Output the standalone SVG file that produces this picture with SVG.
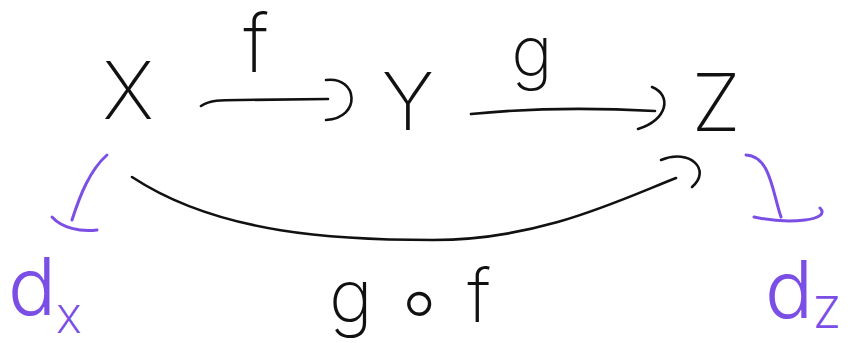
<svg xmlns="http://www.w3.org/2000/svg" width="868" height="343" viewBox="0 0 868 343">
<style>
.bg{fill:#ffffff}
.t{font-family:"Inter","Liberation Sans","DejaVu Sans",sans-serif;font-weight:200;fill:#111111}
.p{fill:#7b4fe6;font-weight:300}
.c{fill:none;stroke:#111111;stroke-width:2.6;stroke-linecap:round;stroke-linejoin:round}
.cp{fill:none;stroke:#7b4fe6;stroke-width:3;stroke-linecap:round;stroke-linejoin:round}
</style>
<rect class="bg" x="0" y="0" width="868" height="343"/>
<g id="connectors">
  <g id="edge-f">
    <path class="c" d="M 201 106 C 210 100 220 100 240 100 L 328 99"/>
    <path class="c" d="M 326 80 C 358 76 362 118 326 120"/>
    <text class="t" x="256" y="72" font-size="80" text-anchor="middle">f</text>
  </g>
  <g id="edge-g">
    <path class="c" d="M 471 114 C 530 108 600 108 655 111"/>
    <path class="c" d="M 652 87 C 672 95 668 120 638 129"/>
    <text class="t" x="532" y="76" font-size="70" text-anchor="middle">g</text>
  </g>
  <g id="edge-gf">
    <path class="c" d="M 132 177 C 220 235 340 240 433 240 C 540 240 620 200 676 178"/>
    <path class="c" d="M 661 160 C 690 148 712 170 692 187"/>
    <text class="t" x="410" y="322" font-size="74" text-anchor="middle">g<tspan font-size="90" dx="18" dy="10">∘</tspan><tspan dx="20" dy="-10">f</tspan></text>
  </g>
  <g id="edge-dx">
    <path class="cp" d="M 107 155 C 90 170 80 195 72 220"/>
    <path class="cp" d="M 52 217 C 62 228 80 232 97 230"/>
  </g>
  <g id="edge-dz">
    <path class="cp" d="M 746 155 C 770 156 772 190 781 217"/>
    <path class="cp" d="M 754 217 C 790 225 832 220 820 208"/>
  </g>
</g>
<g id="node-X"><text class="t" x="128" y="119" font-size="80" text-anchor="middle">X</text></g>
<g id="node-Y"><text class="t" x="408" y="130" font-size="80" text-anchor="middle">Y</text></g>
<g id="node-Z"><text class="t" x="716" y="131" font-size="80" text-anchor="middle">Z</text></g>
<g id="node-dX"><text class="t p" x="8" y="315" font-size="80">d<tspan font-size="38" dy="18">X</tspan></text></g>
<g id="node-dZ"><text class="t p" x="765" y="318" font-size="80">d<tspan font-size="44" dy="10">Z</tspan></text></g>
</svg>
